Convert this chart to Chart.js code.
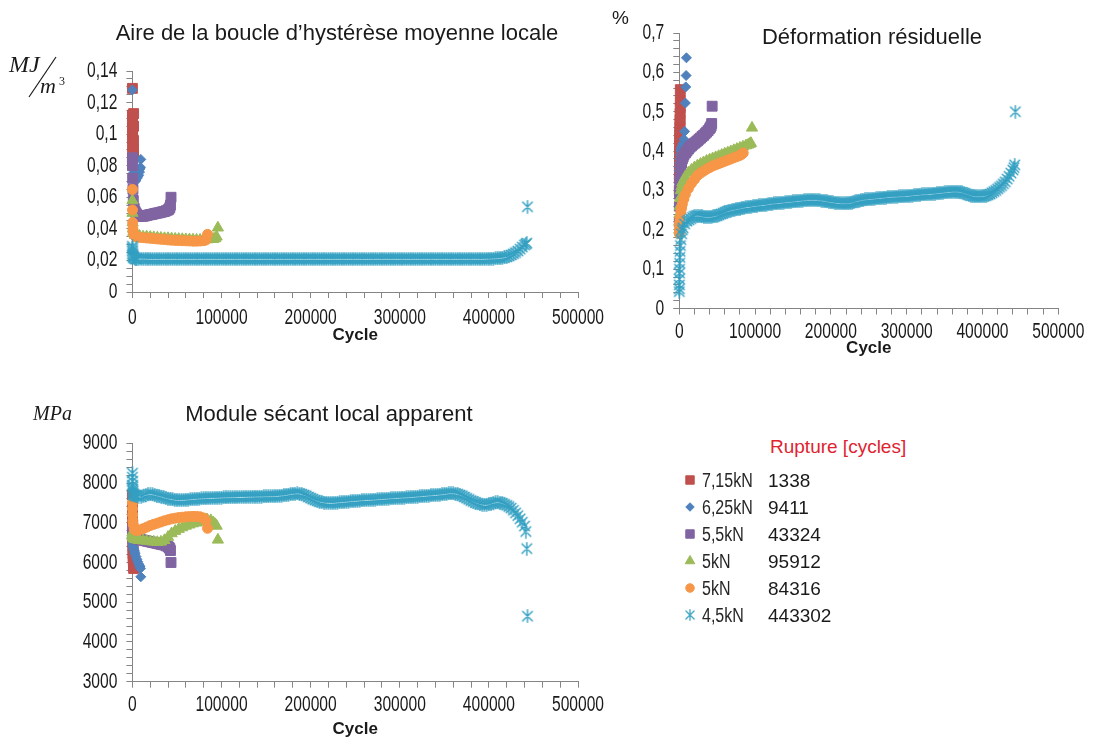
<!DOCTYPE html>
<html><head><meta charset="utf-8">
<script src="https://cdn.jsdelivr.net/npm/chart.js@4.4.1/dist/chart.umd.min.js"></script>
<style>
html,body{margin:0;padding:0;background:#fff;}
body{width:1101px;height:740px;overflow:hidden;position:relative;font-family:'Liberation Sans',Arial,sans-serif;color:#1a1a1a}
canvas{position:absolute}
.t{position:absolute;white-space:nowrap;font-size:22px;line-height:22px;transform:translateX(-50%)}
.u{position:absolute;white-space:nowrap;font-family:'Liberation Serif','Times New Roman',serif;font-style:italic}
.lg{position:absolute;white-space:nowrap;font-size:19px;line-height:27px}
.nar{font-size:20px;transform:scaleX(0.8);transform-origin:0 50%}
</style></head><body>
<canvas id="c1" width="640" height="350" style="left:0px;top:0px"></canvas>
<canvas id="c3" width="640" height="360" style="left:0px;top:380px"></canvas>
<canvas id="c2" width="521" height="370" style="left:580px;top:0px"></canvas>
<canvas id="lgc" width="30" height="180" style="left:675px;top:465px"></canvas>

<div class="t" style="left:337px;top:22px">Aire de la boucle d’hystérèse moyenne locale</div>
<div class="t" style="left:872px;top:26px">Déformation résiduelle</div>
<div class="t" style="left:329px;top:403px">Module sécant local apparent</div>

<div class="u" style="left:9px;top:52px;font-size:24px;line-height:24px">MJ</div>
<svg style="position:absolute;left:0;top:0" width="80" height="110"><line x1="56" y1="57" x2="29" y2="97" stroke="#1a1a1a" stroke-width="1.2"/></svg>
<div class="u" style="left:40px;top:75px;font-size:22px;line-height:22px">m</div>
<div style="position:absolute;left:59px;top:75px;font-family:'Liberation Serif',serif;font-size:12px;line-height:12px">3</div>
<div style="position:absolute;left:612px;top:8px;font-size:19px;line-height:19px">%</div>
<div class="u" style="left:33px;top:403px;font-size:20px;line-height:20px">MPa</div>

<div id="legend"></div>

<script>
// ---------------- DATA ----------------
const seriesLabels = ['7,15kN', '6,25kN', '5,5kN', '5kN', '5kN', '4,5kN'];
const ruptureCycles = [1338, 9411, 43324, 95912, 84316, 443302];
const ruptureTitle = 'Rupture [cycles]';
const xTickMajor = 100000;

// 7,15kN
const cycles715 = [1, 50, 100, 150, 200, 300, 400, 500, 600, 700, 800, 900, 1000, 1100, 1200, 1300, 1338];
const aire715 = [0.129, 0.112, 0.108, 0.104, 0.1, 0.097, 0.094, 0.092, 0.09, 0.088, 0.087, 0.086, 0.087, 0.09, 0.096, 0.105, 0.113];
const deform715 = [0.30, 0.33, 0.35, 0.37, 0.385, 0.40, 0.415, 0.43, 0.44, 0.45, 0.46, 0.47, 0.48, 0.495, 0.51, 0.53, 0.556];
const module715 = [7700, 7400, 7200, 7050, 6900, 6750, 6620, 6500, 6400, 6300, 6220, 6150, 6080, 6020, 5960, 5900, 5850];

// 6,25kN
const cycles625 = [1, 100, 300, 600, 1000, 1500, 2000, 2500, 3000, 4000, 5000, 6000, 7000, 8000, 8500, 9000, 9411];
const aire625 = [0.128, 0.082, 0.078, 0.075, 0.073, 0.072, 0.071, 0.07, 0.07, 0.071, 0.072, 0.073, 0.074, 0.076, 0.078, 0.079, 0.084];
const deform625 = [0.33, 0.35, 0.36, 0.37, 0.38, 0.39, 0.40, 0.405, 0.41, 0.415, 0.42, 0.43, 0.45, 0.522, 0.563, 0.592, 0.637];
const module625 = [6650, 6550, 6480, 6420, 6380, 6340, 6300, 6260, 6220, 6150, 6080, 6020, 5960, 5920, 5890, 5850, 5640];

// 5,5kN
const cycles55 = [1, 100, 300, 600, 1000, 2000, 3000, 4000, 5000, 6000,
  8000, 10000, 12000, 14000, 16000, 18000, 20000, 22000, 24000, 26000, 28000, 30000, 32000, 34000, 36000, 38000, 40000,
  41000, 42000, 42700, 43324];
const aire55 = [0.085, 0.08, 0.072, 0.065, 0.058, 0.053, 0.051, 0.05, 0.049, 0.0485,
  0.048, 0.048, 0.048, 0.0482, 0.0485, 0.0488, 0.049, 0.0492, 0.0495, 0.0498, 0.05, 0.0502, 0.0505, 0.0508, 0.051, 0.0515, 0.052,
  0.0525, 0.0535, 0.055, 0.06];
const deform55 = [0.22, 0.26, 0.29, 0.31, 0.33, 0.355, 0.37, 0.38, 0.385, 0.39,
  0.395, 0.40, 0.405, 0.41, 0.413, 0.417, 0.42, 0.423, 0.426, 0.43, 0.433, 0.437, 0.44, 0.444, 0.448, 0.452, 0.457,
  0.46, 0.464, 0.47, 0.514];
const module55 = [6800, 6750, 6720, 6700, 6680, 6650, 6630, 6610, 6600, 6590,
  6580, 6570, 6560, 6550, 6540, 6530, 6520, 6510, 6500, 6490, 6480, 6470, 6460, 6450, 6440, 6420, 6400,
  6380, 6350, 6300, 6000];

// 5kN (triangle)
const cycles5a = [1, 100, 300, 600, 1000, 2000, 3000, 4000, 6000, 8000,
  12000, 16000, 20000, 24000, 28000, 32000, 36000, 40000, 44000, 48000, 52000, 56000, 60000, 64000, 68000, 72000, 76000, 80000, 84000, 88000,
  91000, 93000, 94500, 95912];
const aire5a = [0.058, 0.05, 0.044, 0.04, 0.038, 0.037, 0.036, 0.036, 0.0355, 0.0355,
  0.035, 0.035, 0.0348, 0.0346, 0.0344, 0.0342, 0.034, 0.034, 0.0338, 0.0336, 0.0335, 0.0334, 0.0333, 0.0332, 0.0331, 0.033, 0.033, 0.033, 0.0332, 0.0334,
  0.0335, 0.034, 0.035, 0.0407];
const deform5a = [0.2, 0.22, 0.24, 0.26, 0.28, 0.30, 0.31, 0.32, 0.327, 0.335,
  0.345, 0.352, 0.358, 0.363, 0.367, 0.371, 0.375, 0.378, 0.381, 0.384, 0.387, 0.39, 0.393, 0.396, 0.399, 0.402, 0.405, 0.408, 0.411, 0.414,
  0.416, 0.418, 0.42, 0.459];
const module5a = [6750, 6700, 6660, 6640, 6620, 6600, 6590, 6580, 6570, 6560,
  6550, 6540, 6530, 6520, 6510, 6520, 6560, 6640, 6730, 6790, 6840, 6880, 6920, 6950, 6980, 7000, 7020, 7040, 7080, 7060,
  7000, 6960, 6920, 6570];

// 5kN (circle)
const cycles5b = [1, 100, 300, 600, 1000, 2000, 3000, 4000, 6000, 8000,
  12000, 16000, 20000, 24000, 28000, 32000, 36000, 40000, 44000, 48000, 52000, 56000, 60000, 64000, 68000, 72000, 76000, 80000,
  82500, 84316];
const aire5b = [0.065, 0.052, 0.044, 0.04, 0.038, 0.036, 0.0355, 0.035, 0.0348, 0.0346,
  0.0344, 0.0342, 0.034, 0.0338, 0.0336, 0.0334, 0.0332, 0.033, 0.0328, 0.0327, 0.0326, 0.0325, 0.0324, 0.0323, 0.0322, 0.0322, 0.0323, 0.0325,
  0.033, 0.0365];
const deform5b = [0.19, 0.2, 0.21, 0.22, 0.23, 0.245, 0.255, 0.265, 0.278, 0.29,
  0.305, 0.318, 0.328, 0.338, 0.344, 0.349, 0.354, 0.358, 0.362, 0.365, 0.368, 0.371, 0.374, 0.377, 0.38, 0.383, 0.386, 0.389,
  0.392, 0.395];
const module5b = [7500, 7350, 7200, 7050, 6950, 6850, 6820, 6810, 6810, 6820,
  6850, 6890, 6930, 6960, 6990, 7020, 7050, 7075, 7100, 7115, 7130, 7140, 7150, 7155, 7160, 7160, 7150, 7120,
  7050, 6860];

// 4,5kN
const cycles45 = [1, 20, 50, 100, 200, 300, 500, 700, 1000, 1500, 2000, 3000, 4000, 5000, 7000,
  10000, 12500, 15000, 17500, 20000, 22500, 25000, 27500, 30000, 32500,
  35000, 37500, 40000, 42500, 45000, 47500, 50000, 52500, 55000, 57500,
  60000, 62500, 65000, 67500, 70000, 72500, 75000, 77500, 80000, 82500,
  85000, 87500, 90000, 92500, 95000, 97500, 100000, 102500, 105000, 107500,
  110000, 112500, 115000, 117500, 120000, 122500, 125000, 127500, 130000, 132500,
  135000, 137500, 140000, 142500, 145000, 147500, 150000, 152500, 155000, 157500,
  160000, 162500, 165000, 167500, 170000, 172500, 175000, 177500, 180000, 182500,
  185000, 187500, 190000, 192500, 195000, 197500, 200000, 202500, 205000, 207500,
  210000, 212500, 215000, 217500, 220000, 222500, 225000, 227500, 230000, 232500,
  235000, 237500, 240000, 242500, 245000, 247500, 250000, 252500, 255000, 257500,
  260000, 262500, 265000, 267500, 270000, 272500, 275000, 277500, 280000, 282500,
  285000, 287500, 290000, 292500, 295000, 297500, 300000, 302500, 305000, 307500,
  310000, 312500, 315000, 317500, 320000, 322500, 325000, 327500, 330000, 332500,
  335000, 337500, 340000, 342500, 345000, 347500, 350000, 352500, 355000, 357500,
  360000, 362500, 365000, 367500, 370000, 372500, 375000, 377500, 380000, 382500,
  385000, 387500, 390000, 392500, 395000, 397500, 400000, 402500, 405000, 407500,
  410000, 412500, 415000, 417500, 420000, 422500, 425000, 427500, 430000, 432500,
  435000, 437500, 440000,
  441500, 442500, 443302];
const aire45 = [0.029, 0.028, 0.027, 0.026, 0.025, 0.024, 0.023, 0.023, 0.022, 0.022, 0.0215, 0.021, 0.021, 0.021, 0.021,
  0.0212, 0.0211, 0.0211, 0.021, 0.021, 0.0209, 0.021, 0.0209, 0.0209, 0.021,
  0.021, 0.0209, 0.021, 0.0209, 0.021, 0.021, 0.0209, 0.021, 0.021, 0.0209,
  0.021, 0.021, 0.0209, 0.021, 0.021, 0.0209, 0.021, 0.021, 0.0209, 0.021,
  0.021, 0.0209, 0.021, 0.021, 0.0209, 0.021, 0.021, 0.0209, 0.021, 0.021,
  0.0209, 0.021, 0.021, 0.0209, 0.021, 0.021, 0.0209, 0.021, 0.021, 0.0209,
  0.021, 0.021, 0.0209, 0.021, 0.0209, 0.021, 0.021, 0.0209, 0.021, 0.021,
  0.0209, 0.021, 0.021, 0.021, 0.0209, 0.021, 0.021, 0.0209, 0.021, 0.021,
  0.021, 0.0209, 0.021, 0.021, 0.0209, 0.021, 0.021, 0.021, 0.0209, 0.021,
  0.021, 0.0209, 0.021, 0.021, 0.021, 0.0209, 0.021, 0.021, 0.0209, 0.021,
  0.021, 0.021, 0.0209, 0.021, 0.021, 0.0209, 0.021, 0.021, 0.021, 0.0209,
  0.021, 0.0209, 0.021, 0.021, 0.0209, 0.021, 0.021, 0.021, 0.0209, 0.021,
  0.021, 0.021, 0.0209, 0.021, 0.021, 0.0209, 0.021, 0.021, 0.021, 0.0209,
  0.021, 0.0209, 0.021, 0.021, 0.021, 0.0209, 0.021, 0.021, 0.0209, 0.021,
  0.021, 0.021, 0.0209, 0.021, 0.021, 0.021, 0.0209, 0.021, 0.021, 0.0209,
  0.021, 0.021, 0.0209, 0.021, 0.021, 0.021, 0.0209, 0.021, 0.021, 0.021,
  0.021, 0.021, 0.0209, 0.021, 0.021, 0.0211, 0.0211, 0.0212, 0.0212, 0.0213,
  0.0214, 0.0215, 0.0217, 0.0219, 0.0222, 0.0228, 0.0235, 0.0242, 0.025, 0.026,
  0.0272, 0.0285, 0.0298,
  0.0305, 0.031, 0.054];
const deform45 = [0.043, 0.05, 0.06, 0.075, 0.09, 0.1, 0.115, 0.13, 0.145, 0.16, 0.175, 0.19, 0.2, 0.205, 0.215,
  0.222, 0.225, 0.228, 0.232, 0.235, 0.236, 0.236, 0.235, 0.234, 0.233,
  0.232, 0.232, 0.232, 0.233, 0.234, 0.235, 0.236, 0.238, 0.24, 0.242,
  0.244, 0.246, 0.248, 0.249, 0.25, 0.251, 0.252, 0.253, 0.254, 0.255,
  0.256, 0.257, 0.258, 0.258, 0.259, 0.26, 0.261, 0.261, 0.262, 0.262,
  0.263, 0.263, 0.264, 0.265, 0.266, 0.266, 0.267, 0.267, 0.268, 0.268,
  0.269, 0.269, 0.27, 0.27, 0.271, 0.271, 0.272, 0.272, 0.273, 0.273,
  0.274, 0.274, 0.275, 0.275, 0.276, 0.276, 0.276, 0.276, 0.276, 0.275,
  0.275, 0.274, 0.274, 0.273, 0.272, 0.271, 0.27, 0.27, 0.269, 0.268,
  0.268, 0.267, 0.267, 0.267, 0.267, 0.267, 0.268, 0.269, 0.27, 0.272,
  0.273, 0.274, 0.275, 0.276, 0.277, 0.277, 0.278, 0.278, 0.279, 0.279,
  0.28, 0.28, 0.281, 0.281, 0.282, 0.282, 0.283, 0.283, 0.284, 0.284,
  0.284, 0.284, 0.285, 0.285, 0.285, 0.285, 0.286, 0.286, 0.287, 0.287,
  0.288, 0.288, 0.289, 0.289, 0.29, 0.29, 0.29, 0.29, 0.291, 0.291,
  0.292, 0.292, 0.293, 0.293, 0.294, 0.294, 0.295, 0.295, 0.296, 0.296,
  0.297, 0.297, 0.297, 0.297, 0.296, 0.295, 0.293, 0.292, 0.29, 0.289,
  0.287, 0.286, 0.285, 0.285, 0.285, 0.285, 0.285, 0.286, 0.287, 0.289,
  0.291, 0.294, 0.297, 0.3, 0.304, 0.308, 0.312, 0.317, 0.322, 0.329,
  0.336, 0.344, 0.352,
  0.358, 0.365, 0.5];
const module45 = [8250, 8150, 8050, 7950, 7900, 7850, 7800, 7760, 7730, 7710, 7700, 7690, 7680, 7670, 7660,
  7650, 7680, 7700, 7715, 7720, 7715, 7700, 7685, 7670, 7655,
  7640, 7625, 7610, 7600, 7590, 7580, 7570, 7568, 7570, 7575,
  7580, 7585, 7590, 7595, 7600, 7605, 7610, 7612, 7615, 7618,
  7620, 7622, 7625, 7628, 7630, 7632, 7635, 7638, 7640, 7640,
  7640, 7642, 7645, 7648, 7650, 7650, 7650, 7652, 7655, 7655,
  7655, 7658, 7660, 7660, 7660, 7662, 7665, 7665, 7665, 7668,
  7670, 7675, 7680, 7685, 7690, 7700, 7710, 7720, 7730, 7735,
  7740, 7735, 7720, 7700, 7680, 7650, 7620, 7595, 7570, 7550,
  7530, 7520, 7510, 7505, 7500, 7500, 7500, 7505, 7510, 7515,
  7520, 7525, 7530, 7535, 7540, 7545, 7550, 7555, 7560, 7565,
  7570, 7572, 7575, 7578, 7580, 7585, 7590, 7595, 7600, 7602,
  7605, 7610, 7615, 7618, 7620, 7625, 7630, 7632, 7635, 7638,
  7640, 7645, 7650, 7655, 7660, 7665, 7670, 7675, 7680, 7685,
  7690, 7695, 7700, 7705, 7710, 7715, 7720, 7730, 7740, 7742,
  7740, 7732, 7720, 7700, 7680, 7650, 7620, 7590, 7560, 7535,
  7510, 7490, 7470, 7458, 7450, 7452, 7460, 7480, 7500, 7512,
  7520, 7508, 7490, 7468, 7440, 7408, 7370, 7315, 7250, 7180,
  7100, 7015, 6920,
  6780, 6350, 4650];

// ---------------- STYLES ----------------
const colors = ['#C0504D', '#4F81BD', '#8064A2', '#9BBB59', '#F79646', '#34A0C2'];
const pointStyles = ['rect', 'rectRot', 'rect', 'triangle', 'circle', 'asterisk'];
const radii = [7, 5, 7, 6.5, 5, 7];

function asteriskImage(color, size) {
  const c = document.createElement('canvas');
  c.width = size; c.height = size;
  const g = c.getContext('2d');
  g.strokeStyle = color; g.lineWidth = 1.4; g.lineCap = 'round';
  const m = size / 2, r = size / 2 - 0.8, d = r * 0.78;
  g.beginPath();
  g.moveTo(m, m - r); g.lineTo(m, m + r);
  g.moveTo(m - d, m - d); g.lineTo(m + d, m + d);
  g.moveTo(m + d, m - d); g.lineTo(m - d, m + d);
  g.stroke();
  return c;
}
const starImg = asteriskImage(colors[5], 14);
const starImgSmall = asteriskImage('#4BACC6', 12);

function pts(cyc, vals, name) {
  if (cyc.length !== vals.length) throw new Error('length mismatch ' + name + ' ' + cyc.length + ' vs ' + vals.length);
  return cyc.map((c, i) => ({ x: c, y: vals[i] }));
}

const allCycles = [cycles715, cycles625, cycles55, cycles5a, cycles5b, cycles45];

function datasets(valueSets, name) {
  return valueSets.map((vals, i) => ({
    label: seriesLabels[i],
    data: pts(allCycles[i], vals, name + i),
    pointStyle: pointStyles[i] === 'asterisk' ? starImg : pointStyles[i],
    pointRadius: radii[i],
    backgroundColor: colors[i],
    borderColor: colors[i],
    borderWidth: 1,
    showLine: false,
    clip: false,
    order: 6 - i
  }));
}

// narrow rendering of the tick labels (Arial Narrow look)
function condense(canvas, k) {
  const ctx = canvas.getContext('2d');
  const orig = ctx.fillText.bind(ctx);
  ctx.fillText = function (text, x, y, maxWidth) {
    if (/bold/.test(this.font)) { return maxWidth === undefined ? orig(text, x, y) : orig(text, x, y, maxWidth); }
    this.save(); this.translate(x, y); this.scale(k, 1);
    if (maxWidth === undefined) orig(text, 0, 0); else orig(text, 0, 0, maxWidth / k);
    this.restore();
  };
}

const tickFamily = "'Liberation Sans',Arial,sans-serif";
const axisColor = '#858585';

function isMult(v, step) { const q = v / step; return Math.abs(q - Math.round(q)) < 1e-6; }
function commaFmt(v, dec) { return String(+v.toFixed(dec)).replace('.', ','); }

function makeChart(id, ds, o) {
  const cv = document.getElementById(id);
  condense(cv, 0.71);
  return new Chart(cv, {
    type: 'scatter',
    data: { datasets: ds },
    options: {
      responsive: false, animation: false, events: [], devicePixelRatio: 1,
      layout: { padding: { top: o.top, right: o.right, bottom: 0, left: 0 } },
      plugins: { legend: { display: false }, tooltip: { enabled: false } },
      scales: {
        x: {
          type: 'linear', position: 'bottom', min: 0, max: 500000,
          afterFit(s) { s.height = o.xh; },
          border: { display: true, color: axisColor, width: 1 },
          grid: { display: true, drawOnChartArea: false, drawTicks: true, tickLength: 6, color: axisColor },
          ticks: {
            stepSize: 20000, autoSkip: false, maxRotation: 0, minRotation: 0, padding: o.xpad,
            color: '#1a1a1a', font: { family: tickFamily, size: 22, lineHeight: 1 },
            callback: v => isMult(v, xTickMajor) ? String(v) : ''
          },
          title: { display: true, text: 'Cycle', color: '#1a1a1a',
            font: { family: "'Liberation Sans',Arial,sans-serif", size: 17, weight: 'bold' },
            padding: { top: 0, bottom: o.tb } }
        },
        y: {
          type: 'linear', position: 'left', min: o.ymin, max: o.ymax,
          afterFit(s) { s.width = o.yw; },
          border: { display: true, color: axisColor, width: 1 },
          grid: { display: true, drawOnChartArea: false, drawTicks: true, tickLength: 6, color: axisColor },
          ticks: {
            stepSize: o.ystep, autoSkip: false, padding: 9,
            color: '#1a1a1a', font: { family: tickFamily, size: 22, lineHeight: 1 },
            callback: v => isMult(v, o.ymajor) ? o.fmt(v) : ''
          }
        }
      }
    }
  });
}

makeChart('c1', datasets([aire715, aire625, aire55, aire5a, aire5b, aire45], 'aire'),
  { top: 71, right: 62, xh: 58, yw: 132.4, ymin: 0, ymax: 0.14, ystep: 0.005, ymajor: 0.02,
    fmt: v => commaFmt(v, 2), xpad: 9, tb: 4 });
makeChart('c2', datasets([deform715, deform625, deform55, deform5a, deform5b, deform45], 'def'),
  { top: 33, right: 33, xh: 61.5, yw: 99.3, ymin: 0, ymax: 0.7, ystep: 0.02, ymajor: 0.1,
    fmt: v => commaFmt(v, 1), xpad: 6, tb: 11 });
makeChart('c3', datasets([module715, module625, module55, module5a, module5b, module45], 'mod'),
  { top: 63.3, right: 62, xh: 58.3, yw: 132.4, ymin: 3000, ymax: 9000, ystep: 200, ymajor: 1000,
    fmt: v => String(v), xpad: 6, tb: 0 });

// ---------------- LEGEND ----------------
(function () {
  const lg = document.getElementById('legend');
  const h = document.createElement('div');
  h.className = 'lg';
  h.style.cssText = 'left:770px;top:437px;font-size:19px;line-height:19px;color:#e0232f';
  h.textContent = ruptureTitle;
  lg.appendChild(h);
  const ctx = document.getElementById('lgc').getContext('2d');
  seriesLabels.forEach((lab, i) => {
    const top = 466.5 + i * 27;
    const a = document.createElement('div');
    a.className = 'lg nar';
    a.style.cssText = 'left:702px;top:' + top + 'px;color:#262626';
    a.textContent = lab;
    lg.appendChild(a);
    const b = document.createElement('div');
    b.className = 'lg';
    b.style.cssText = 'left:768px;top:' + top + 'px;color:#1a1a1a';
    b.textContent = String(ruptureCycles[i]);
    lg.appendChild(b);
    ctx.save();
    ctx.fillStyle = colors[i]; ctx.strokeStyle = colors[i]; ctx.lineWidth = 1;
    const cy = top + 13.5 - 465;
    const ps = pointStyles[i] === 'asterisk' ? starImgSmall : pointStyles[i];
    Chart.helpers.drawPoint(ctx, { pointStyle: ps, radius: radii[i] * 0.85, rotation: 0, borderWidth: 1 }, 15, cy);
    ctx.restore();
  });
})();
</script>
</body></html>
